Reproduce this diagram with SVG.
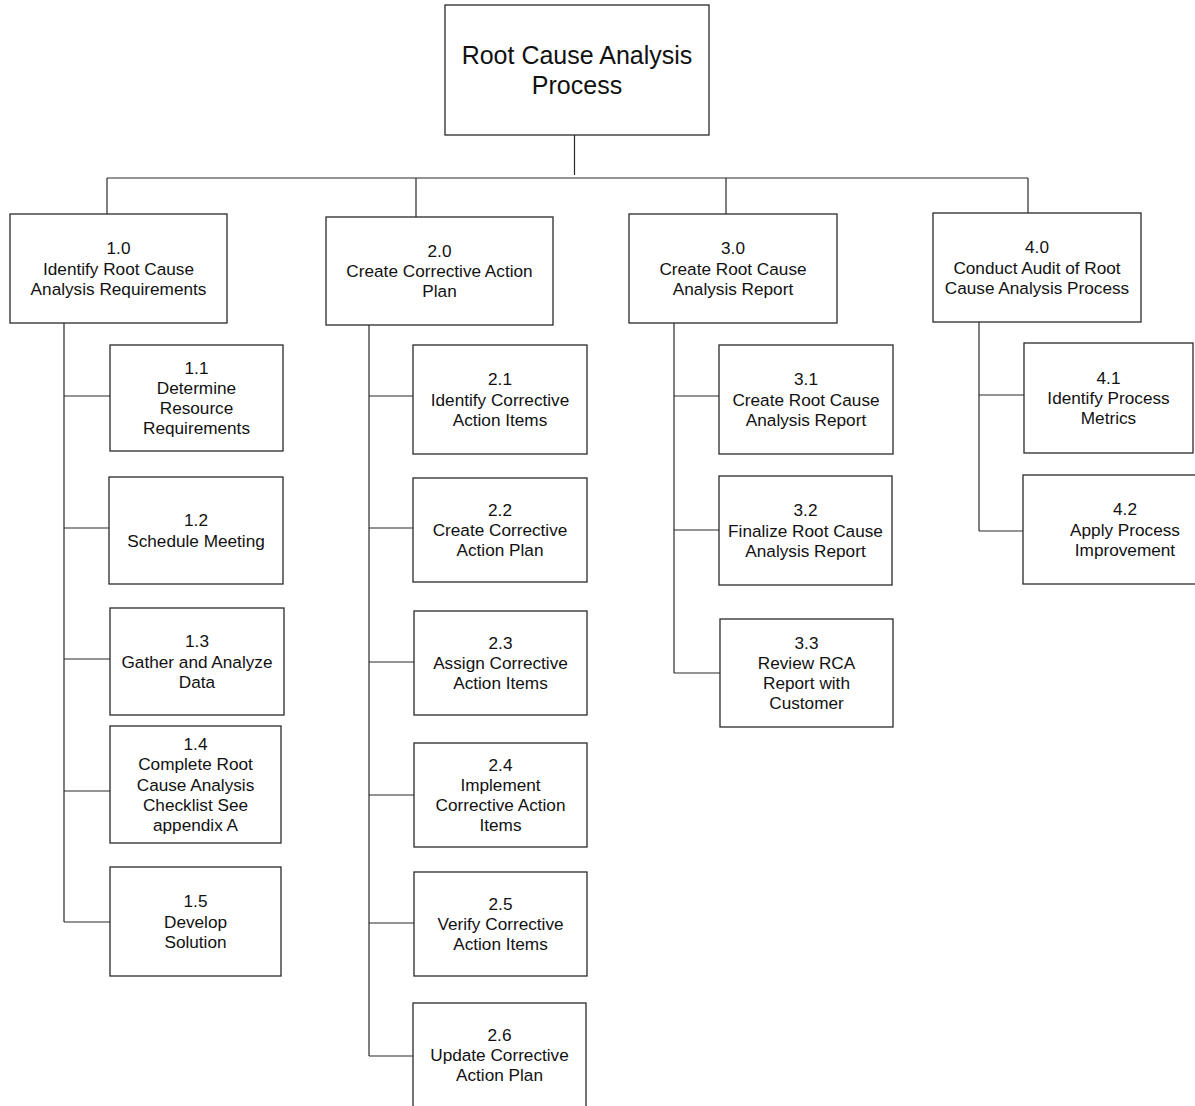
<svg xmlns="http://www.w3.org/2000/svg" width="1195" height="1106" viewBox="0 0 1195 1106">
<style>
rect{fill:#fff;stroke:#2a2a2a;stroke-width:1.3}
text{font-family:"Liberation Sans",Arial,sans-serif;font-size:17.2px;fill:#111;text-anchor:middle}
.t{font-size:25px}
#connectors path{fill:none;stroke:#2a2a2a;stroke-width:1.2}
</style>
<rect x="0" y="0" width="1195" height="1106" style="fill:#fff;stroke:none"/>
<g id="connectors">
<path d="M574.5,135V175M107,178H1028M107,178V214M416,178V217M726,178V214M1028,178V213"/>
<path d="M64,323V922M64,396H110M64,528H109M64,659H110M64,791H110M64,922H110"/>
<path d="M369,325V1056M369,396H413M369,528H413M369,662H414M369,795H414M369,923H414M369,1056H413"/>
<path d="M674,323V673M674,396H719M674,530H719M674,673H720"/>
<path d="M979,322V531M979,395H1024M979,531H1023"/>
</g>
<g id="root"><rect x="445" y="5" width="264" height="130"/><text class="t" x="577" y="64">Root Cause Analysis</text><text class="t" x="577" y="94">Process</text></g>
<g id="n1_0"><rect x="10" y="214" width="217" height="109"/><text x="118.5" y="254.3">1.0</text><text x="118.5" y="274.5">Identify Root Cause</text><text x="118.5" y="294.7">Analysis Requirements</text></g>
<g id="n2_0"><rect x="326" y="217" width="227" height="108"/><text x="439.5" y="256.8">2.0</text><text x="439.5" y="277">Create Corrective Action</text><text x="439.5" y="297.2">Plan</text></g>
<g id="n3_0"><rect x="629" y="214" width="208" height="109"/><text x="733" y="254.3">3.0</text><text x="733" y="274.5">Create Root Cause</text><text x="733" y="294.7">Analysis Report</text></g>
<g id="n4_0"><rect x="933" y="213" width="208" height="109"/><text x="1037" y="253.3">4.0</text><text x="1037" y="273.5">Conduct Audit of Root</text><text x="1037" y="293.7">Cause Analysis Process</text></g>
<g id="n1_1"><rect x="110" y="345" width="173" height="106"/><text x="196.5" y="373.7">1.1</text><text x="196.5" y="393.9">Determine</text><text x="196.5" y="414.1">Resource</text><text x="196.5" y="434.3">Requirements</text></g>
<g id="n1_2"><rect x="109" y="477" width="174" height="107"/><text x="196" y="526.4">1.2</text><text x="196" y="546.6">Schedule Meeting</text></g>
<g id="n1_3"><rect x="110" y="608" width="174" height="107"/><text x="197" y="647.3">1.3</text><text x="197" y="667.5">Gather and Analyze</text><text x="197" y="687.7">Data</text></g>
<g id="n1_4"><rect x="110" y="726" width="171" height="117"/><text x="195.5" y="750.1">1.4</text><text x="195.5" y="770.3">Complete Root</text><text x="195.5" y="790.5">Cause Analysis</text><text x="195.5" y="810.7">Checklist See</text><text x="195.5" y="830.9">appendix A</text></g>
<g id="n1_5"><rect x="110" y="867" width="171" height="109"/><text x="195.5" y="907.3">1.5</text><text x="195.5" y="927.5">Develop</text><text x="195.5" y="947.7">Solution</text></g>
<g id="n2_1"><rect x="413" y="345" width="174" height="109"/><text x="500" y="385.3">2.1</text><text x="500" y="405.5">Identify Corrective</text><text x="500" y="425.7">Action Items</text></g>
<g id="n2_2"><rect x="413" y="478" width="174" height="104"/><text x="500" y="515.8">2.2</text><text x="500" y="536">Create Corrective</text><text x="500" y="556.2">Action Plan</text></g>
<g id="n2_3"><rect x="414" y="611" width="173" height="104"/><text x="500.5" y="648.8">2.3</text><text x="500.5" y="669">Assign Corrective</text><text x="500.5" y="689.2">Action Items</text></g>
<g id="n2_4"><rect x="414" y="743" width="173" height="104"/><text x="500.5" y="770.7">2.4</text><text x="500.5" y="790.9">Implement</text><text x="500.5" y="811.1">Corrective Action</text><text x="500.5" y="831.3">Items</text></g>
<g id="n2_5"><rect x="414" y="872" width="173" height="104"/><text x="500.5" y="909.8">2.5</text><text x="500.5" y="930">Verify Corrective</text><text x="500.5" y="950.2">Action Items</text></g>
<g id="n2_6"><rect x="413" y="1003" width="173" height="112"/><text x="499.5" y="1041">2.6</text><text x="499.5" y="1061.2">Update Corrective</text><text x="499.5" y="1081.4">Action Plan</text></g>
<g id="n3_1"><rect x="719" y="345" width="174" height="109"/><text x="806" y="385.3">3.1</text><text x="806" y="405.5">Create Root Cause</text><text x="806" y="425.7">Analysis Report</text></g>
<g id="n3_2"><rect x="719" y="476" width="173" height="109"/><text x="805.5" y="516.3">3.2</text><text x="805.5" y="536.5">Finalize Root Cause</text><text x="805.5" y="556.7">Analysis Report</text></g>
<g id="n3_3"><rect x="720" y="619" width="173" height="108"/><text x="806.5" y="648.7">3.3</text><text x="806.5" y="668.9">Review RCA</text><text x="806.5" y="689.1">Report with</text><text x="806.5" y="709.3">Customer</text></g>
<g id="n4_1"><rect x="1024" y="343" width="169" height="110"/><text x="1108.5" y="383.8">4.1</text><text x="1108.5" y="404">Identify Process</text><text x="1108.5" y="424.2">Metrics</text></g>
<g id="n4_2"><rect x="1023" y="475" width="210" height="109"/><text x="1125" y="515.3">4.2</text><text x="1125" y="535.5">Apply Process</text><text x="1125" y="555.7">Improvement</text></g>
</svg>
